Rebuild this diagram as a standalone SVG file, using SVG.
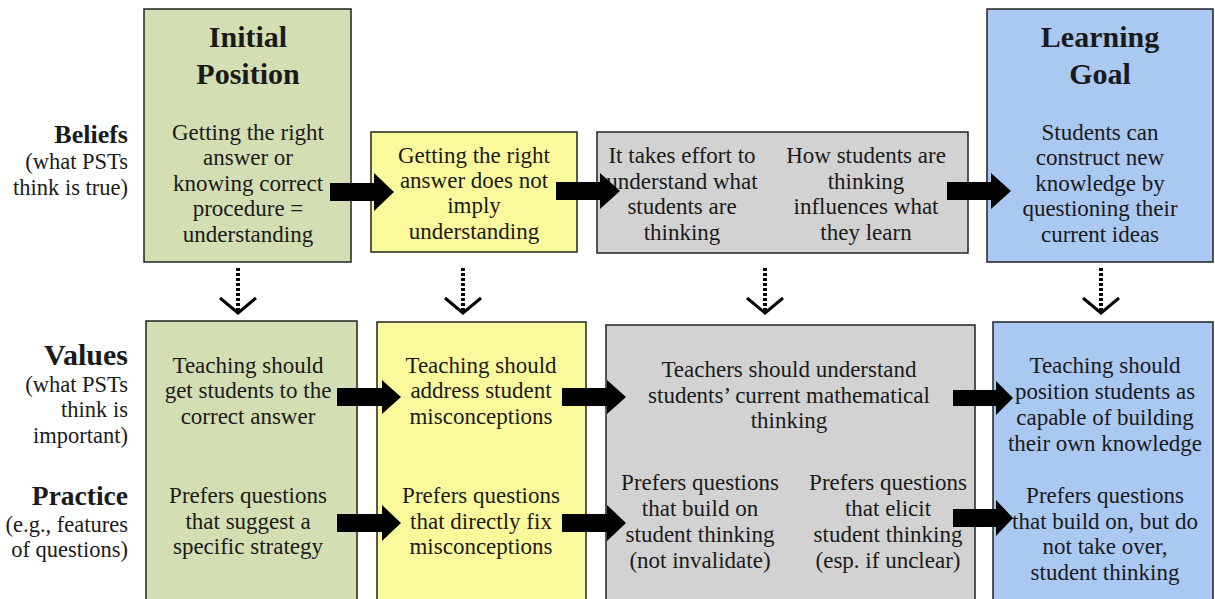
<svg xmlns="http://www.w3.org/2000/svg" width="1215" height="599" viewBox="0 0 1215 599">
<style>
text{font-family:'Liberation Serif',Tinos,'Times New Roman',Times,'DejaVu Serif',serif;fill:#1a1a1a;font-size:23px;text-anchor:middle}
.title{font-size:30px;font-weight:bold}
.lab{text-anchor:end;font-weight:bold;font-size:26px}
.sub{text-anchor:end;font-size:22.5px}
.box{stroke:#222;stroke-width:1.5}
.g{fill:#d3deb2}.y{fill:#fafa9c}.k{fill:#d2d2d2}.b{fill:#a9c8f2}
.arr{fill:#000}
.dot{stroke:#000;stroke-width:4;stroke-dasharray:3 2;fill:none}
.chev{stroke:#000;stroke-width:3;fill:none}
</style>
<rect width="1215" height="599" fill="#fff"/>
<g id="labels">
<text class="lab" x="128" y="143">Beliefs</text>
<text class="sub" x="128" y="169">(what PSTs</text>
<text class="sub" x="128" y="195">think is true)</text>
<text class="lab" x="128" y="365" style="font-size:30px">Values</text>
<text class="sub" x="128" y="392">(what PSTs</text>
<text class="sub" x="128" y="417">think is</text>
<text class="sub" x="128" y="443">important)</text>
<text class="lab" x="128" y="505" style="font-size:27.5px">Practice</text>
<text class="sub" x="128" y="532">(e.g., features</text>
<text class="sub" x="128" y="557">of questions)</text>
</g>
<g id="initial-belief">
<rect class="box g" x="144" y="9" width="207" height="253"/>
<text class="title" x="248" y="47">Initial</text>
<text class="title" x="248" y="84">Position</text>
<text x="248" y="140">Getting the right</text>
<text x="248" y="165">answer or</text>
<text x="248" y="191">knowing correct</text>
<text x="248" y="216">procedure =</text>
<text x="248" y="242">understanding</text>
</g>
<g id="yellow-belief">
<rect class="box y" x="371" y="132" width="206" height="120"/>
<text x="474" y="163">Getting the right</text>
<text x="474" y="188">answer does not</text>
<text x="474" y="213">imply</text>
<text x="474" y="239">understanding</text>
</g>
<g id="gray-belief">
<rect class="box k" x="597" y="132" width="371" height="121"/>
<text x="682" y="163">It takes effort to</text>
<text x="682" y="189">understand what</text>
<text x="682" y="214">students are</text>
<text x="682" y="240">thinking</text>
<text x="866" y="163">How students are</text>
<text x="866" y="189">thinking</text>
<text x="866" y="214">influences what</text>
<text x="866" y="240">they learn</text>
</g>
<g id="goal-belief">
<rect class="box b" x="987" y="9" width="226" height="253"/>
<text class="title" x="1100" y="47">Learning</text>
<text class="title" x="1100" y="84">Goal</text>
<text x="1100" y="140">Students can</text>
<text x="1100" y="165">construct new</text>
<text x="1100" y="191">knowledge by</text>
<text x="1100" y="216">questioning their</text>
<text x="1100" y="242">current ideas</text>
</g>
<g id="initial-values">
<rect class="box g" x="146" y="321" width="211" height="280"/>
<text x="248" y="373">Teaching should</text>
<text x="248" y="398">get students to the</text>
<text x="248" y="424">correct answer</text>
<text x="248" y="503">Prefers questions</text>
<text x="248" y="529">that suggest a</text>
<text x="248" y="554">specific strategy</text>
</g>
<g id="yellow-values">
<rect class="box y" x="377" y="322" width="209" height="279"/>
<text x="481" y="373">Teaching should</text>
<text x="481" y="398">address student</text>
<text x="481" y="424">misconceptions</text>
<text x="481" y="503">Prefers questions</text>
<text x="481" y="529">that directly fix</text>
<text x="481" y="554">misconceptions</text>
</g>
<g id="gray-values">
<rect class="box k" x="606" y="325" width="369" height="276"/>
<text x="789" y="377">Teachers should understand</text>
<text x="789" y="403">students’ current mathematical</text>
<text x="789" y="428">thinking</text>
<text x="700" y="490">Prefers questions</text>
<text x="700" y="516">that build on</text>
<text x="700" y="542">student thinking</text>
<text x="700" y="568">(not invalidate)</text>
<text x="888" y="490">Prefers questions</text>
<text x="888" y="516">that elicit</text>
<text x="888" y="542">student thinking</text>
<text x="888" y="568">(esp. if unclear)</text>
</g>
<g id="goal-values">
<rect class="box b" x="993" y="322" width="220" height="279"/>
<text x="1105" y="373">Teaching should</text>
<text x="1105" y="399">position students as</text>
<text x="1105" y="425">capable of building</text>
<text x="1105" y="451">their own knowledge</text>
<text x="1105" y="503">Prefers questions</text>
<text x="1105" y="529">that build on, but do</text>
<text x="1105" y="554">not take over,</text>
<text x="1105" y="580">student thinking</text>
</g>
<g id="connectors">
<polygon class="arr" points="330,183 374,183 374,173 394,192 374,211 374,201 330,201"/>
<polygon class="arr" points="556,182 600,182 600,173 620,191 600,209 600,200 556,200"/>
<polygon class="arr" points="947,182 991,182 991,173 1011,191 991,209 991,200 947,200"/>
<polygon class="arr" points="337,388 382,388 382,380 401,397 382,414 382,406 337,406"/>
<polygon class="arr" points="562,388 607,388 607,380 626,397 607,414 607,406 562,406"/>
<polygon class="arr" points="953,390 996,390 996,381 1013,398 996,415 996,406 953,406"/>
<polygon class="arr" points="337,514 382,514 382,505 401,523 382,541 382,532 337,532"/>
<polygon class="arr" points="562,514 607,514 607,505 626,523 607,541 607,532 562,532"/>
<polygon class="arr" points="953,509 996,509 996,500 1013,518 996,536 996,527 953,527"/>
<path class="dot" d="M238,268V311M463,268V311M765,268V311M1101,268V311"/>
<path class="chev" d="M220,298L238,313L256,298M445,298L463,313L481,298M747,298L765,313L783,298M1083,298L1101,313L1119,298"/>
</g>
</svg>
